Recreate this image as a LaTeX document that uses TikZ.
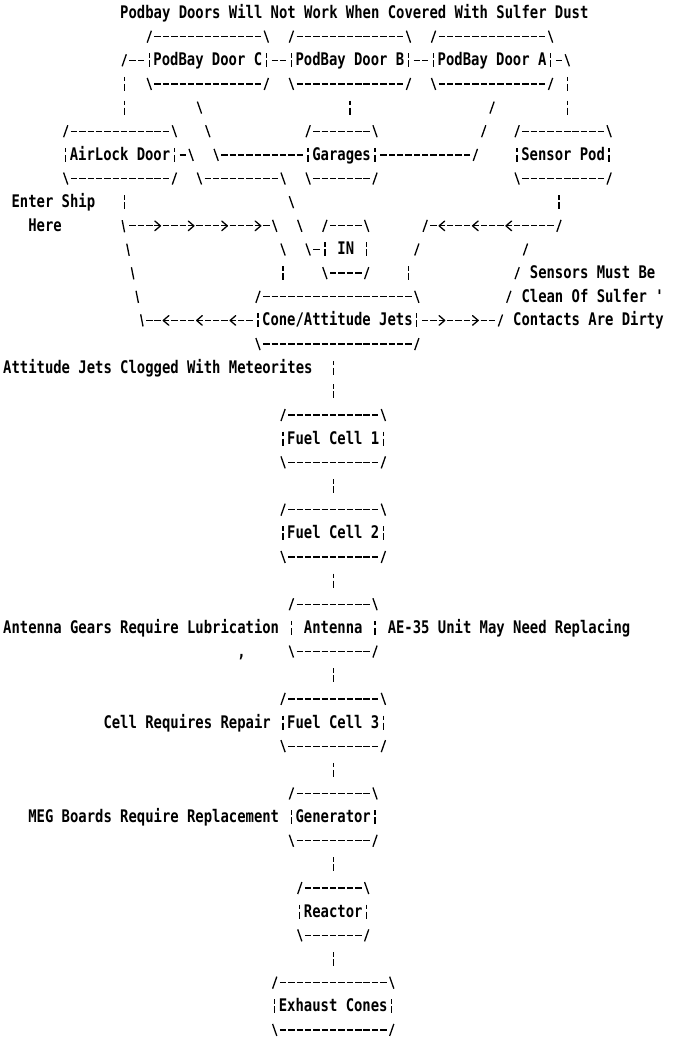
\documentclass[tikz,border=0pt]{standalone}
\usepackage{fontspec}
\newfontfamily\dotfont{DejaVu Sans Mono}[FakeStretch=0.8]
\usetikzlibrary{decorations.markings}
\newcommand\dottext{\dotfont\bfseries\fontsize{17.36pt}{20pt}\selectfont}
\newcommand\chevron{\draw[solid,line width=1.3pt,line cap=round,line join=round] (-2.8pt,4.8pt) -- (2.8pt,0pt) -- (-2.8pt,-4.8pt);}
\newcommand\asciibox[1]{%
  \draw[stroke] ([xshift=-2.1pt,yshift=-6pt]#1.north west) -- ([xshift=2.1pt,yshift=6pt]#1.north west);
  \draw[hrun] ([xshift=5.16pt]#1.north west) -- ([xshift=-5.16pt]#1.north east);
  \draw[stroke] ([xshift=-2.1pt,yshift=6pt]#1.north east) -- ([xshift=2.1pt,yshift=-6pt]#1.north east);
  \draw[bbar] ([yshift=-16.65pt]#1.north east) -- ([yshift=16.65pt]#1.south east);
  \draw[bbar] ([yshift=-16.65pt]#1.north west) -- ([yshift=16.65pt]#1.south west);
  \draw[stroke] ([xshift=-2.1pt,yshift=6pt]#1.south west) -- ([xshift=2.1pt,yshift=-6pt]#1.south west);
  \draw[hrun] ([xshift=5.16pt]#1.south west) -- ([xshift=-5.16pt]#1.south east);
  \draw[stroke] ([xshift=-2.1pt,yshift=-6pt]#1.south east) -- ([xshift=2.1pt,yshift=6pt]#1.south east);
}
\begin{document}
\begin{tikzpicture}[x=8.36pt,y=-23.65pt,
  stroke/.style={line width=1.3pt,draw=black},
  hrun/.style={stroke,dash pattern=on 6.4pt off 1.96pt},
  hgap/.style={shorten <=5.16pt,shorten >=5.16pt},
  bbar/.style={stroke,dash pattern=on 4.5pt off 2.5pt on 7pt off 9.65pt},
  vrun/.style={bbar,shorten <=16.65pt,shorten >=16.65pt},
  drun/.style={stroke,dash pattern=on 12.7pt off 12.38pt},
  drunsteep/.style={stroke,dash pattern=on 12.4pt off 11.58pt},
  chev/.style={postaction={decorate,decoration={markings,mark=at position #1 with {\chevron}}}},
  sysbox/.style={minimum width=#1*8.36pt,minimum height=47.3pt,inner sep=0pt,outer sep=0pt,
    text height=12pt,text depth=1pt,font=\dottext},
  lbl/.style={anchor=base west,inner sep=0pt,yshift=-5.5pt,font=\dottext}]
\fill[white] (0pt,0pt) rectangle (681pt,-1040pt);
\useasboundingbox (0pt,0pt) rectangle (681pt,-1040pt);
\begin{scope}[shift={(0.8589,-0.4503)}]
% boxes
\node[sysbox=14] (doorC) at (24,3) {PodBay Door C};
\node[sysbox=14] (doorB) at (41,3) {PodBay Door B};
\node[sysbox=14] (doorA) at (58,3) {PodBay Door A};
\node[sysbox=13] (airlock) at (13.5,7) {AirLock Door};
\node[sysbox=8] (garages) at (40,7) {Garages};
\node[sysbox=11] (sensor) at (66.5,7) {Sensor Pod};
\node[sysbox=5] (inbox) at (40.5,11) {IN};
\node[sysbox=19] (cone) at (39.5,14) {Cone/Attitude Jets};
\node[sysbox=12] (fc1) at (39,19) {Fuel Cell 1};
\node[sysbox=12] (fc2) at (39,23) {Fuel Cell 2};
\node[sysbox=10] (antenna) at (39,27) {Antenna};
\node[sysbox=12] (fc3) at (39,31) {Fuel Cell 3};
\node[sysbox=10] (gen) at (39,35) {Generator};
\node[sysbox=8] (reactor) at (39,39) {Reactor};
\node[sysbox=14] (exhaust) at (39,43) {Exhaust Cones};
\foreach \n in {doorC,doorB,doorA,airlock,garages,sensor,inbox,cone,fc1,fc2,antenna,fc3,gen,reactor,exhaust}{\asciibox{\n}}
% labels
\node[lbl] (title) at (13.5,1) {Podbay Doors Will Not Work When Covered With Sulfer Dust};
\node[lbl] (enter) at (0.5,9) {Enter Ship};
\node[lbl] (here) at (2.5,10) {Here};
\node[lbl] (sens1) at (62.5,12) {Sensors Must Be};
\node[lbl] (sens2) at (61.5,13) {Clean Of Sulfer '};
\node[lbl] (sens3) at (60.5,14) {Contacts Are Dirty};
\node[lbl] (jets) at (-0.5,16) {Attitude Jets Clogged With Meteorites};
\node[lbl] (gears) at (-0.5,27) {Antenna Gears Require Lubrication};
\node[lbl] (ae35) at (45.5,27) {AE-35 Unit May Need Replacing};
\node[lbl] (comma) at (27.5,28) {,};
\node[lbl] (repair) at (11.5,31) {Cell Requires Repair};
\node[lbl] (meg) at (2.5,35) {MEG Boards Require Replacement};
% top bus
\coordinate (busL) at (14,3);
\coordinate (busR) at (67,3);
\draw[hrun,hgap] (doorC.east) -- (doorB.west);
\draw[hrun,hgap] (doorB.east) -- (doorA.west);
\draw[hrun,hgap] (doorC.west) -- (busL);
\draw[stroke] ([xshift=-2.1pt,yshift=-6pt]busL) -- ([xshift=2.1pt,yshift=6pt]busL);
\draw[vrun] (busL) -- (busL |- airlock.north);
\draw[hrun,hgap] (doorA.east) -- (busR);
\draw[stroke] ([xshift=-2.1pt,yshift=6pt]busR) -- ([xshift=2.1pt,yshift=-6pt]busR);
\draw[vrun] (busR) -- (busR |- sensor.north);
% doors to garages
\coordinate (cg1) at (23,5);
\coordinate (cg2) at (25,7);
\draw[drun] ([xshift=-2.1pt,yshift=6pt]cg1) -- ([xshift=2.1pt,yshift=-6pt]cg2);
\draw[hrun,hgap] (cg2) -- (garages.west);
\draw[vrun] (doorB.south) -- (doorB.south |- garages.north);
\coordinate (ag1) at (58,5);
\coordinate (ag2) at (56,7);
\draw[drun] ([xshift=2.1pt,yshift=6pt]ag1) -- ([xshift=-2.1pt,yshift=-6pt]ag2);
\draw[hrun,hgap] (ag2) -- (garages.east);
% airlock to IN
\coordinate (ai1) at (22,7);
\coordinate (ai2) at (23,8);
\coordinate (ai3) at (33,8);
\coordinate (ai4) at (36,11);
\draw[hrun,hgap] (airlock.east) -- (ai1);
\draw[drun] ([xshift=-2.1pt,yshift=6pt]ai1) -- ([xshift=2.1pt,yshift=-6pt]ai2);
\draw[hrun,hgap] (ai2) -- (ai3);
\draw[drun] ([xshift=-2.1pt,yshift=6pt]ai3) -- ([xshift=2.1pt,yshift=-6pt]ai4);
\draw[hrun,hgap] (ai4) -- (inbox.west);
% airlock down and right to cone
\coordinate (jL) at (14,10);
\coordinate (jR) at (32,10);
\coordinate (jD) at (33,11);
\draw[vrun] (jL |- airlock.south) -- (jL);
\draw[hrun,hgap] (jL) -- (jR);
\path[chev=33.44pt,chev=66.88pt,chev=100.32pt,chev=133.76pt] (jL) -- (jR);
\draw[drun] ([xshift=-2.1pt,yshift=6pt]jR) -- ([xshift=2.1pt,yshift=-6pt]jD);
\draw[vrun] (jD) -- (jD |- cone.north);
% cone back to airlock
\coordinate (lL) at (16,14);
\draw[hrun,hgap] (cone.west) -- (lL);
\path[chev=25.08pt,chev=58.52pt,chev=91.96pt] (cone.west) -- (lL);
\draw[drunsteep] ([xshift=2.1pt,yshift=-6pt]lL) -- ([xshift=-2.1pt,yshift=6pt]jL);
% sensor pod to cone
\coordinate (s1) at (66,10);
\coordinate (s2) at (50,10);
\coordinate (s3) at (49,11);
\coordinate (s4) at (48,11);
\draw[vrun] (s1 |- sensor.south) -- (s1);
\draw[stroke] ([xshift=-2.1pt,yshift=-6pt]s1) -- ([xshift=2.1pt,yshift=6pt]s1);
\draw[hrun,hgap] (s1) -- (s2);
\path[chev=50.16pt,chev=83.6pt,chev=117.04pt] (s1) -- (s2);
\draw[drun] ([xshift=2.1pt,yshift=6pt]s2) -- ([xshift=-2.1pt,yshift=-6pt]s3);
\draw[vrun] (s4) -- (s4 |- cone.north);
% cone back to sensor pod
\coordinate (rR) at (59,14);
\coordinate (rT) at (62,11);
\draw[hrun,hgap] (cone.east) -- (rR);
\path[chev=25.08pt,chev=58.52pt] (cone.east) -- (rR);
\draw[drun] ([xshift=-2.1pt,yshift=-6pt]rR) -- ([xshift=2.1pt,yshift=6pt]rT);
% vertical chain
\draw[vrun] (fc1.north |- cone.south) -- (fc1.north);
\foreach \a/\b in {fc1/fc2,fc2/antenna,antenna/fc3,fc3/gen,gen/reactor,reactor/exhaust}{\draw[vrun] (\a.south) -- (\b.north);}
\end{scope}
\end{tikzpicture}
\end{document}
